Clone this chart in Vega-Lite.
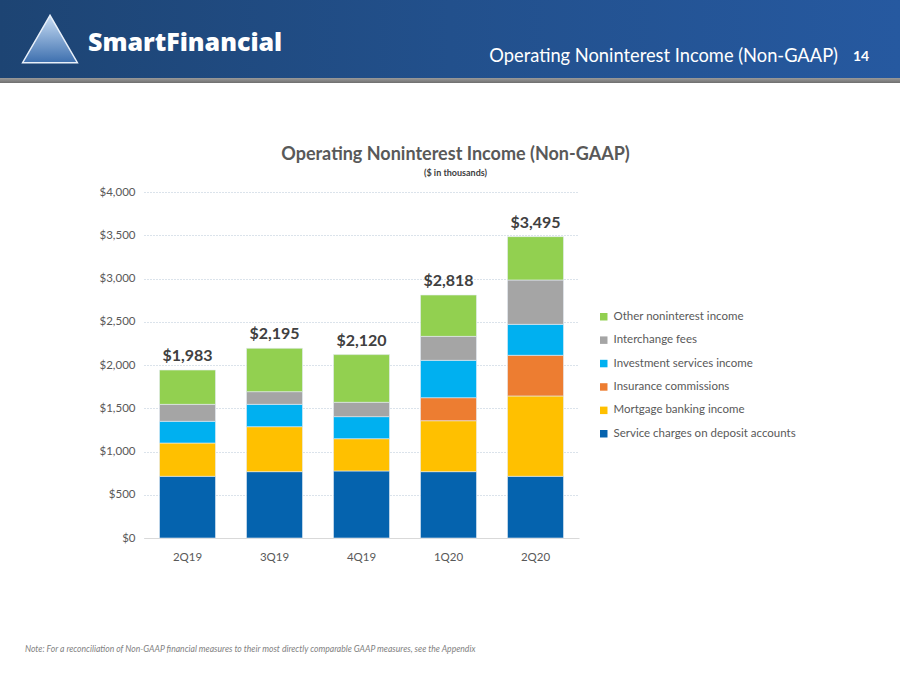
{
  "$schema": "https://vega.github.io/schema/vega-lite/v6.json",
  "padding": 0,
  "autosize": {"type": "pad"},
  "background": "white",
  "config": {
    "view": {"stroke": null},
    "font": "Lato"
  },
  "datasets": {
    "segments": [
      {"quarter": "2Q19", "category": "Service charges on deposit accounts", "value": 713},
      {"quarter": "2Q19", "category": "Mortgage banking income", "value": 385},
      {"quarter": "2Q19", "category": "Investment services income", "value": 251},
      {"quarter": "2Q19", "category": "Interchange fees", "value": 196},
      {"quarter": "2Q19", "category": "Other noninterest income", "value": 397},
      {"quarter": "3Q19", "category": "Service charges on deposit accounts", "value": 767},
      {"quarter": "3Q19", "category": "Mortgage banking income", "value": 520},
      {"quarter": "3Q19", "category": "Investment services income", "value": 258},
      {"quarter": "3Q19", "category": "Interchange fees", "value": 147},
      {"quarter": "3Q19", "category": "Other noninterest income", "value": 501},
      {"quarter": "4Q19", "category": "Service charges on deposit accounts", "value": 775},
      {"quarter": "4Q19", "category": "Mortgage banking income", "value": 373},
      {"quarter": "4Q19", "category": "Investment services income", "value": 255},
      {"quarter": "4Q19", "category": "Interchange fees", "value": 166},
      {"quarter": "4Q19", "category": "Other noninterest income", "value": 551},
      {"quarter": "1Q20", "category": "Service charges on deposit accounts", "value": 767},
      {"quarter": "1Q20", "category": "Mortgage banking income", "value": 589},
      {"quarter": "1Q20", "category": "Insurance commissions", "value": 266},
      {"quarter": "1Q20", "category": "Investment services income", "value": 432},
      {"quarter": "1Q20", "category": "Interchange fees", "value": 277},
      {"quarter": "1Q20", "category": "Other noninterest income", "value": 478},
      {"quarter": "2Q20", "category": "Service charges on deposit accounts", "value": 713},
      {"quarter": "2Q20", "category": "Mortgage banking income", "value": 929},
      {"quarter": "2Q20", "category": "Insurance commissions", "value": 470},
      {"quarter": "2Q20", "category": "Investment services income", "value": 358},
      {"quarter": "2Q20", "category": "Interchange fees", "value": 513},
      {"quarter": "2Q20", "category": "Other noninterest income", "value": 501}
    ],
    "categories": [
      {"category": "Service charges on deposit accounts", "stackRank": 1},
      {"category": "Mortgage banking income", "stackRank": 2},
      {"category": "Insurance commissions", "stackRank": 3},
      {"category": "Investment services income", "stackRank": 4},
      {"category": "Interchange fees", "stackRank": 5},
      {"category": "Other noninterest income", "stackRank": 6}
    ],
    "totals": [
      {"quarter": "2Q19", "label": "$1,983"},
      {"quarter": "3Q19", "label": "$2,195"},
      {"quarter": "4Q19", "label": "$2,120"},
      {"quarter": "1Q20", "label": "$2,818"},
      {"quarter": "2Q20", "label": "$3,495"}
    ],
    "banner": [{"item": "banner"}]
  },
  "title": {
    "text": "Note: For a reconciliation of Non-GAAP financial measures to their most directly comparable GAAP measures, see the Appendix",
    "orient": "bottom",
    "anchor": "start",
    "frame": "bounds",
    "dx": 25,
    "offset": 82,
    "font": "Lato",
    "fontSize": 8.6,
    "fontStyle": "italic",
    "fontWeight": "normal",
    "color": "#7f7f7f"
  },
  "resolve": {"scale": {"color": "independent"}, "legend": {"color": "independent"}},
  "concat": [
    {
      "concat": [
        {
          "width": 900,
          "height": 78,
          "data": {"name": "banner"},
          "layer": [
            {
              "mark": {
                "type": "rect",
                "color": {
                  "gradient": "linear", "x1": 0, "x2": 1, "y1": 0, "y2": 0,
                  "stops": [
                    {"offset": 0, "color": "#1d4473"},
                    {"offset": 0.5, "color": "#22508c"},
                    {"offset": 1, "color": "#2659a0"}
                  ]
                }
              },
              "encoding": {}
            },
            {
              "mark": {
                "type": "point", "shape": "triangle-up", "size": 3000, "filled": true, "opacity": 1,
                "color": {
                  "gradient": "linear", "x1": 0, "x2": 0, "y1": 0, "y2": 1,
                  "stops": [
                    {"offset": 0, "color": "#c9def5"},
                    {"offset": 1, "color": "#3d6fae"}
                  ]
                },
                "stroke": "#e8f0fa", "strokeWidth": 1.5,
                "xOffset": -400, "yOffset": 0
              },
              "encoding": {}
            },
            {
              "mark": {
                "type": "text", "text": "SmartFinancial", "align": "left", "baseline": "middle",
                "font": "Open Sans", "fontSize": 25, "fontWeight": 800, "color": "white",
                "dx": -362, "dy": 4
              },
              "encoding": {}
            },
            {
              "mark": {
                "type": "text", "text": "Operating Noninterest Income (Non-GAAP)", "align": "right", "baseline": "middle",
                "font": "Lato", "fontSize": 18.3, "color": "white",
                "dx": 388, "dy": 18
              },
              "encoding": {}
            },
            {
              "mark": {
                "type": "text", "text": "14", "align": "center", "baseline": "middle",
                "font": "Lato", "fontSize": 14, "fontWeight": "bold", "color": "white",
                "dx": 411, "dy": 18
              },
              "encoding": {}
            }
          ]
        },
        {
          "width": 900,
          "height": 5,
          "data": {"name": "banner"},
          "mark": {
            "type": "rect",
            "color": {
              "gradient": "linear", "x1": 0, "x2": 0, "y1": 0, "y2": 1,
              "stops": [
                {"offset": 0, "color": "#9a9a9a"},
                {"offset": 1, "color": "#6f6f6f"}
              ]
            }
          },
          "encoding": {}
        }
      ],
      "columns": 1,
      "spacing": 0
    },
    {
      "resolve": {"scale": {"color": "independent"}, "legend": {"color": "independent"}},
      "concat": [
        {
          "width": 93.5,
          "height": 346,
          "data": {"name": "banner"},
          "mark": {"type": "rect", "opacity": 0},
          "encoding": {}
        },
        {
          "width": 435,
          "height": 346,
          "title": {
            "text": "Operating Noninterest Income (Non-GAAP)",
            "subtitle": "($ in thousands)",
            "anchor": "middle",
            "frame": "group",
            "dx": 94,
            "offset": 8,
            "font": "Lato",
            "fontSize": 18,
            "fontWeight": "bold",
            "color": "#595959",
            "subtitleFont": "Lato",
            "subtitleFontSize": 9,
            "subtitleFontWeight": "bold",
            "subtitleColor": "#404040",
            "subtitlePadding": 5
          },
          "data": {"name": "segments"},
          "transform": [
            {"lookup": "category", "from": {"data": {"name": "categories"}, "key": "category", "fields": ["stackRank"]}}
          ],
          "layer": [
            {
              "mark": {"type": "bar", "stroke": "#e6edf5", "strokeWidth": 0.6},
              "encoding": {
                "x": {
                  "field": "quarter", "type": "nominal",
                  "sort": ["2Q19", "3Q19", "4Q19", "1Q20", "2Q20"],
                  "scale": {"paddingInner": 0.356, "paddingOuter": 0.178},
                  "axis": {
                    "title": null, "labelAngle": 0, "ticks": false, "labelPadding": 13,
                    "labelFont": "Lato", "labelFontSize": 11.5, "labelColor": "#595959",
                    "domainColor": "#d9d9d9", "domainWidth": 1.2
                  }
                },
                "y": {
                  "field": "value", "type": "quantitative",
                  "scale": {"domain": [0, 4000]},
                  "axis": {
                    "title": null, "values": [0, 500, 1000, 1500, 2000, 2500, 3000, 3500, 4000],
                    "format": "$,.0f", "domain": false, "ticks": false, "labelPadding": 9,
                    "labelFont": "Lato", "labelFontSize": 11.5, "labelColor": "#595959",
                    "gridColor": "#b7c6d6", "gridDash": [1, 2], "gridWidth": 1,
                    "minExtent": 50
                  }
                },
                "color": {
                  "field": "category", "type": "nominal",
                  "scale": {
                    "domain": ["Other noninterest income", "Interchange fees", "Investment services income", "Insurance commissions", "Mortgage banking income", "Service charges on deposit accounts"],
                    "range": ["#92d050", "#a5a5a5", "#00b0f0", "#ed7d31", "#ffc000", "#0563ae"]
                  },
                  "legend": {
                    "orient": "none", "legendX": 454, "legendY": 119, "title": null,
                    "symbolType": "square", "symbolSize": 56, "symbolStrokeWidth": 0,
                    "labelFont": "Lato", "labelFontSize": 11.5, "labelColor": "#595959",
                    "labelLimit": 400, "rowPadding": 10.4, "labelOffset": 4
                  }
                },
                "order": {"field": "stackRank", "type": "quantitative", "sort": "ascending"}
              }
            },
            {
              "transform": [
                {"aggregate": [{"op": "sum", "field": "value", "as": "top"}], "groupby": ["quarter"]},
                {"lookup": "quarter", "from": {"data": {"name": "totals"}, "key": "quarter", "fields": ["label"]}}
              ],
              "mark": {"type": "text", "dy": -9, "font": "Lato", "fontSize": 16, "fontWeight": "bold", "color": "#404040", "baseline": "alphabetic"},
              "encoding": {
                "x": {"field": "quarter", "type": "nominal", "sort": ["2Q19", "3Q19", "4Q19", "1Q20", "2Q20"]},
                "y": {"field": "top", "type": "quantitative"},
                "text": {"field": "label", "type": "nominal"}
              }
            }
          ]
        }
      ],
      "columns": 2,
      "spacing": 0
    }
  ],
  "columns": 1,
  "spacing": 63
}
